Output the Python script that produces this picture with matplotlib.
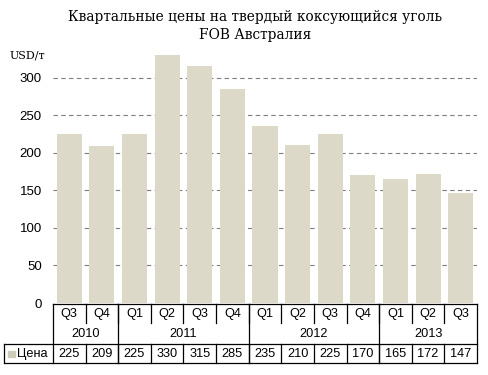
import matplotlib
matplotlib.use("Agg")
import matplotlib.pyplot as plt
from matplotlib.patches import Rectangle

quarters = ["Q3", "Q4", "Q1", "Q2", "Q3", "Q4", "Q1", "Q2", "Q3", "Q4", "Q1", "Q2", "Q3"]
years = ["2010", "2011", "2012", "2013"]
year_counts = [2, 4, 4, 3]
prices = [225, 209, 225, 330, 315, 285, 235, 210, 225, 170, 165, 172, 147]
series_name = "Цена"
title = "Квартальные цены на твердый коксующийся уголь\nFOB Австралия"
unit = "USD/т"
yticks = [0, 50, 100, 150, 200, 250, 300]

BAR = "#DDD9C8"
W, H = 488, 375
fig = plt.figure(figsize=(W / 100, H / 100), dpi=100)
fig.patch.set_facecolor("white")

def px_rect(l, t, r, b):
    return [l / W, 1 - b / H, (r - l) / W, (b - t) / H]

ax = fig.add_axes(px_rect(53, 40, 477, 303))
n = len(prices)
x = list(range(n))
ax.set_xlim(-0.5, n - 0.5)
ax.set_ylim(0, 350)
for yv in yticks[1:]:
    ax.axhline(yv, color="#7f7f7f", lw=0.8, ls=(0, (4, 3)), zorder=0)
ax.bar(x, prices, width=0.77, color=BAR, zorder=2)
ax.set_yticks(yticks)
ax.set_yticklabels([str(v) for v in yticks], fontsize=9.5, family="Liberation Sans")
ax.tick_params(axis="y", length=0, pad=8)
ax.set_xticks([])
for s in ax.spines.values():
    s.set_visible(False)

# table axes (pixel-like y coordinates)
tx0 = -0.5 - 49 / (424 / n)
tab = fig.add_axes(px_rect(4, 303, 477, 364))
tab.set_xlim(tx0, n - 0.5)
tab.set_ylim(61, 0)
tab.axis("off")
lc = "black"
lw = 0.9
fs = 9.2
fam = "Liberation Sans"
tab.plot([-0.5, n - 0.5], [0.5, 0.5], color=lc, lw=lw, clip_on=False)
for i in range(1, n):
    tab.plot([i - 0.5, i - 0.5], [0.5, 20], color=lc, lw=lw, clip_on=False)
b = -0.5
bounds = [b]
for c in year_counts:
    b += c
    bounds.append(b)
for bb in bounds:
    tab.plot([bb, bb], [0.5, 60], color=lc, lw=lw, clip_on=False)
tab.plot([tx0, n - 0.5], [41, 41], color=lc, lw=lw, clip_on=False)
tab.plot([tx0, n - 0.5], [60, 60], color=lc, lw=lw, clip_on=False)
tab.plot([tx0, tx0], [41, 60], color=lc, lw=lw, clip_on=False)
for i in range(1, n):
    tab.plot([i - 0.5, i - 0.5], [41, 60], color=lc, lw=lw, clip_on=False)
for i, q in enumerate(quarters):
    tab.text(i, 10.5, q, ha="center", va="center", fontsize=fs, family=fam)
    tab.text(i, 51, str(prices[i]), ha="center", va="center", fontsize=fs, family=fam)
for k, yr in enumerate(years):
    tab.text((bounds[k] + bounds[k + 1]) / 2, 31, yr, ha="center", va="center", fontsize=fs, family=fam)
tab.add_patch(Rectangle((tx0 + 0.13, 48), 0.2, 6, color="#cfcbbb", clip_on=False))
tab.text(tx0 + 0.4, 51, series_name, ha="left", va="center", fontsize=fs, family=fam)

fig.text(255 / W, 1 - 26 / H, title, ha="center", va="center", fontsize=9.9,
         family="DejaVu Serif", linespacing=1.35)
fig.text(10 / W, 1 - 56 / H, unit, ha="left", va="center", fontsize=8, family="DejaVu Serif")

fig.savefig("out.png", dpi=100, facecolor="white")
